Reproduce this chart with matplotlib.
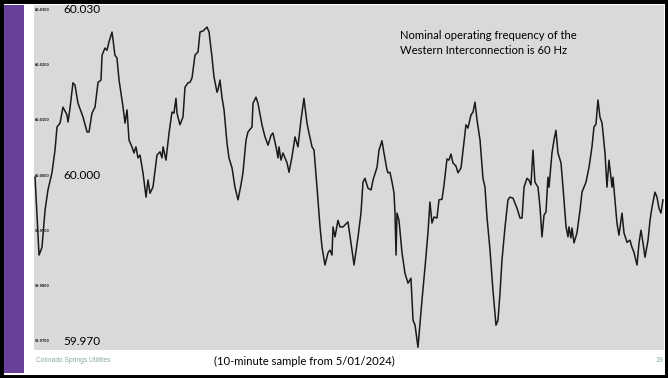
import numpy as np
import matplotlib.pyplot as plt
from matplotlib.patches import Rectangle

# 10 minutes of grid frequency (s, Hz)
t_sec = [1.0, 4.8, 7.6, 10.5, 13.3, 17.1, 20.0, 21.9, 24.8, 27.6, 31.4, 32.4, 34.3, 37.1, 39.0,
         41.9, 46.7, 50.5, 52.4, 55.2, 58.1, 61.0, 63.8, 64.8, 67.6, 69.5, 71.4, 74.3, 77.1, 79.0,
         81.0, 84.8, 86.7, 88.6, 90.5, 93.3, 95.2, 97.1, 99.0, 101.0, 103.8, 106.7, 108.6, 110.5,
         113.3, 117.1, 120.0, 121.9, 122.9, 125.7, 128.6, 131.4, 133.3, 135.2, 136.2, 139.0, 141.9,
         143.8, 146.7, 148.6, 150.5, 153.3, 156.2, 158.1, 161.0, 164.8, 166.7, 169.5, 171.4, 174.3,
         175.2, 177.1, 179.0, 181.0, 183.8, 185.7, 188.6, 191.4, 194.3, 197.1, 199.0, 201.9, 203.8,
         207.6, 208.6, 211.4, 213.3, 217.1, 220.0, 222.9, 225.7, 227.6, 230.5, 232.4, 233.3, 235.2,
         237.1, 241.0, 242.9, 245.7, 248.6, 251.4, 254.3, 257.1, 260.0, 261.9, 264.8, 266.7, 269.5,
         272.4, 274.3, 277.1, 280.0, 281.9, 283.8, 284.8, 286.7, 289.5, 291.4, 294.3, 299.0, 301.9,
         304.8, 308.6, 311.4, 313.3, 315.2, 318.1, 321.0, 322.9, 326.7, 328.6, 331.4, 333.3, 336.2,
         337.1, 339.0, 341.0, 342.9, 343.8, 344.8, 345.7, 347.6, 350.5, 353.3, 356.2, 359.0, 361.0,
         362.9, 365.7, 369.5, 372.4, 375.2, 377.1, 379.0, 381.0, 383.8, 385.7, 388.6, 390.5, 393.3,
         395.2, 397.1, 399.0, 401.9, 403.8, 406.7, 408.6, 411.4, 413.3, 416.2, 418.1, 420.0, 421.9,
         424.8, 427.6, 429.5, 431.4, 434.3, 437.1, 440.0, 441.9, 443.8, 445.7, 448.6, 451.4, 453.3,
         456.2, 460.0, 462.9, 464.8, 466.7, 469.5, 471.4, 473.3, 475.2, 477.1, 480.0, 481.9, 483.8,
         485.7, 487.6, 489.5, 490.5, 493.3, 495.2, 497.1, 499.0, 501.9, 503.8, 506.7, 508.6, 509.5,
         511.4, 512.4, 514.3, 517.1, 520.0, 521.9, 525.7, 528.6, 531.4, 533.3, 535.2, 537.1, 539.0,
         541.0, 543.8, 545.7, 547.6, 550.5, 551.4, 553.3, 555.2, 557.1, 560.0, 561.9, 564.8, 567.6,
         569.5, 571.4, 574.3, 576.2, 578.1, 580.0, 581.9, 584.8, 586.7, 588.6, 591.4, 593.3, 595.2,
         597.1, 599.0]
freq_hz = [59.9997, 59.9856, 59.9870, 59.9937, 59.9974, 60.0005, 60.0046, 60.0088, 60.0095, 60.0124,
           60.0110, 60.0097, 60.0122, 60.0168, 60.0164, 60.0131, 60.0106, 60.0079, 60.0079, 60.0113,
           60.0124, 60.0169, 60.0173, 60.0218, 60.0231, 60.0227, 60.0242, 60.0260, 60.0218, 60.0213,
           60.0173, 60.0124, 60.0095, 60.0119, 60.0064, 60.0052, 60.0041, 60.0052, 60.0032, 60.0037,
           60.0005, 59.9961, 59.9992, 59.9968, 59.9979, 60.0037, 60.0043, 60.0032, 60.0052, 60.0028,
           60.0077, 60.0115, 60.0113, 60.0140, 60.0113, 60.0092, 60.0106, 60.0160, 60.0168, 60.0169,
           60.0177, 60.0218, 60.0224, 60.0260, 60.0262, 60.0269, 60.0260, 60.0215, 60.0179, 60.0151,
           60.0155, 60.0173, 60.0142, 60.0119, 60.0059, 60.0032, 60.0014, 59.9979, 59.9956, 59.9983,
           60.0005, 60.0064, 60.0079, 60.0088, 60.0131, 60.0142, 60.0131, 60.0092, 60.0070, 60.0055,
           60.0073, 60.0077, 60.0052, 60.0032, 60.0052, 60.0028, 60.0041, 60.0023, 60.0006, 60.0034,
           60.0070, 60.0052, 60.0101, 60.0140, 60.0095, 60.0077, 60.0052, 60.0046, 59.9979, 59.9907,
           59.9870, 59.9838, 59.9860, 59.9865, 59.9856, 59.9907, 59.9889, 59.9919, 59.9907, 59.9907,
           59.9916, 59.9878, 59.9838, 59.9889, 59.9932, 59.9988, 59.9995, 59.9977, 59.9974, 59.9992,
           60.0015, 60.0046, 60.0063, 60.0041, 60.0010, 60.0005, 60.0006, 59.9988, 59.9968, 59.9932,
           59.9856, 59.9932, 59.9919, 59.9860, 59.9823, 59.9805, 59.9814, 59.9738, 59.9729, 59.9689,
           59.9774, 59.9834, 59.9896, 59.9952, 59.9914, 59.9925, 59.9923, 59.9956, 59.9957, 59.9983,
           60.0030, 60.0028, 60.0039, 60.0023, 60.0017, 60.0005, 60.0014, 60.0046, 60.0092, 60.0086,
           60.0110, 60.0115, 60.0133, 60.0101, 60.0064, 59.9995, 59.9979, 59.9925, 59.9865, 59.9792,
           59.9729, 59.9738, 59.9787, 59.9847, 59.9907, 59.9956, 59.9961, 59.9959, 59.9941, 59.9923,
           59.9923, 59.9979, 59.9995, 59.9992, 59.9983, 60.0046, 59.9988, 59.9979, 59.9943, 59.9889,
           59.9928, 59.9934, 59.9997, 59.9979, 60.0041, 60.0064, 60.0082, 60.0041, 60.0023, 59.9979,
           59.9907, 59.9889, 59.9907, 59.9887, 59.9905, 59.9878, 59.9896, 59.9937, 59.9970, 59.9988,
           60.0015, 60.0052, 60.0088, 60.0093, 60.0137, 60.0106, 60.0095, 60.0041, 59.9979, 60.0028,
           59.9979, 59.9997, 59.9956, 59.9914, 59.9892, 59.9932, 59.9896, 59.9879, 59.9883, 59.9870,
           59.9861, 59.9838, 59.9878, 59.9901, 59.9878, 59.9852, 59.9883, 59.9919, 59.9943, 59.9970,
           59.9961, 59.9941, 59.9932, 59.9956]

small_ticks = [60.030, 60.020, 60.010, 60.000, 59.990, 59.980, 59.970]
big_labels = ["60.030", "60.000", "59.970"]

fig = plt.figure(figsize=(6.68, 3.78), dpi=100)
fig.patch.set_facecolor('white')

# slide frame and purple side bar
fig.patches.append(Rectangle((0, 0), 1, 1, transform=fig.transFigure, fill=False,
                             edgecolor='black', linewidth=5, zorder=10))
fig.patches.append(Rectangle((4/668, 5/378), 20/668, 368/378, transform=fig.transFigure,
                             facecolor='#683f99', edgecolor='none'))

ax = fig.add_axes([34/668, 28/378, 630/668, 345/378])
ax.set_facecolor('#d9d9d9')
ax.plot(t_sec, freq_hz, color='#1a1a1a', linewidth=1.1)
ax.set_xlim(0, 600)
ax.set_ylim(59.9684, 60.0309)
ax.set_xticks([])
ax.set_yticks([])
for s in ax.spines.values():
    s.set_visible(False)

# tiny axis labels left on the pasted chart
for v in small_ticks:
    ax.text(1, v, "%.4f" % v, fontsize=2.3, fontweight='bold', color='#222222',
            va='center', ha='left')
for lab in big_labels:
    ax.text(27.5, float(lab), lab, fontsize=8.5, family='Lato', va='center', ha='left')

ax.text(349, 60.0241, "Nominal operating frequency of the\nWestern Interconnection is 60 Hz",
        fontsize=8.1, family='Lato', va='center', ha='left', linespacing=1.45)

fig.text(36/668, 1 - 361/378, "Colorado Springs Utilities", fontsize=4.8,
         family='Liberation Sans', color='#8aa89f', va='center')
fig.text(214/668, 1 - 361/378, "(10-minute sample from 5/01/2024)", fontsize=8.1,
         family='Lato', color='black', va='center')
fig.text(655/668, 1 - 361/378, "19", fontsize=5, family='Liberation Sans',
         color='#8aa89f', va='center')

fig.savefig('out.png', dpi=100)
